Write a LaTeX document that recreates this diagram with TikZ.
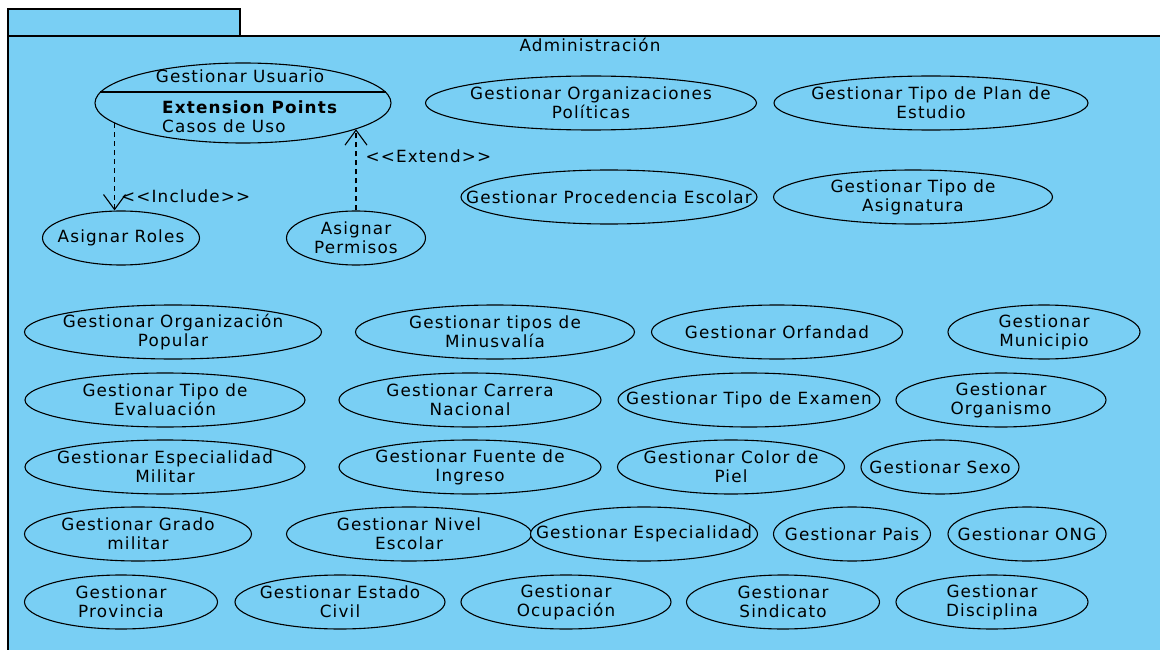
\documentclass[tikz,border=0pt]{standalone}
\usepackage{fontspec}
\setmainfont{DejaVu Sans}[LetterSpace=7]
\usetikzlibrary{shapes.geometric,arrows.meta}
\definecolor{paquete}{RGB}{121,207,244}
\newcommand{\uml}{\fontsize{16.8}{19}\selectfont}

\begin{document}
\begin{tikzpicture}[x=1pt, y=-1pt,
    texto/.style={inner sep=0pt, font=\uml},
    caso/.style={draw, ellipse, fill=paquete, line width=1.1pt, minimum height=54pt, inner sep=0pt,
      label={[texto, align=center]center:#1}},
    dep/.style={dashed, dash pattern=on 5pt off 4pt, line width=1.1pt, -{Straight Barb[length=15pt,width=22pt]}}]
    \useasboundingbox (0,0) rectangle (1160,650);
    \clip (0,0) rectangle (1160,650);
    % paquete Administración
    \draw[fill=paquete, line width=1.1pt] (8,9) rectangle (240,36);
    \draw[fill=paquete, line width=1.1pt] (8,36) rectangle (1175,665);
    \node[texto] (titulo) at (590,45) {Administración};

    % caso con puntos de extensión
    \node[draw, ellipse, fill=paquete, line width=1.1pt, minimum width=296pt, minimum height=80pt, inner sep=0pt] (usuario) at (243,103) {};
    \draw[line width=1.1pt] ([xshift=-143pt,yshift=11pt]usuario.center) -- ([xshift=143pt,yshift=11pt]usuario.center);
    \node[texto] (usutitulo) at (240,76) {Gestionar Usuario};
    \node[texto, anchor=west] (extpuntos) at (162,107) {\bfseries Extension Points};
    \node[texto, anchor=west] (extcasos) at (162,126) {Casos de Uso};

    \node[caso={Asignar Roles}, minimum width=157pt] (roles) at (121,238) {};
    \node[caso={Asignar\\Permisos}, minimum width=139pt] (permisos) at (356,238) {};

    % include y extend
    \draw[dep] (usuario.189) -- (usuario.189 |- roles.north)
      node[pos=0.84, right=6pt, texto] (include) {{<}{<}Include{>}{>}};
    \draw[dep] (permisos.north) -- (permisos.north |- usuario.-13)
      node[pos=0.67, right=9pt, texto] (extend) {{<}{<}Extend{>}{>}};

    % casos superiores
    \node[caso={Gestionar Organizaciones\\Políticas}, minimum width=331pt] (orgpol) at (591,103) {};
    \node[caso={Gestionar Tipo de Plan de\\Estudio}, minimum width=314pt] (planestudio) at (931,103) {};
    \node[caso={Gestionar Procedencia Escolar}, minimum width=296pt] (procedencia) at (609,197) {};
    \node[caso={Gestionar Tipo de\\Asignatura}, minimum width=279pt] (asignatura) at (913,197) {};

    % fila 1
    \node[caso={Gestionar Organización\\Popular}, minimum width=297pt] (orgpop) at (173,332) {};
    \node[caso={Gestionar tipos de\\Minusvalía}, minimum width=279pt] (minusvalia) at (495,332) {};
    \node[caso={Gestionar Orfandad}, minimum width=251pt] (orfandad) at (777,332) {};
    \node[caso={Gestionar\\Municipio}, minimum width=192pt] (municipio) at (1044,332) {};
    % fila 2
    \node[caso={Gestionar Tipo de\\Evaluación}, minimum width=280pt] (evaluacion) at (165,400) {};
    \node[caso={Gestionar Carrera\\Nacional}, minimum width=262pt] (carrera) at (470,400) {};
    \node[caso={Gestionar Tipo de Examen}, minimum width=262pt] (examen) at (749,400) {};
    \node[caso={Gestionar\\Organismo}, minimum width=210pt] (organismo) at (1001,400) {};
    % fila 3
    \node[caso={Gestionar Especialidad\\Militar}, minimum width=280pt] (espmilitar) at (165,467) {};
    \node[caso={Gestionar Fuente de\\Ingreso}, minimum width=262pt] (fuente) at (470,467) {};
    \node[caso={Gestionar Color de\\Piel}, minimum width=227pt] (colorpiel) at (731,467) {};
    \node[caso={Gestionar Sexo}, minimum width=158pt] (sexo) at (940,467) {};
    % fila 4
    \node[caso={Gestionar Grado\\militar}, minimum width=227pt] (grado) at (138,534) {};
    \node[caso={Gestionar Nivel\\Escolar}, minimum width=245pt] (nivel) at (409,534) {};
    \node[caso={Gestionar Especialidad}, minimum width=227pt] (especialidad) at (644,534) {};
    \node[caso={Gestionar Pais}, minimum width=157pt] (pais) at (852,534) {};
    \node[caso={Gestionar ONG}, minimum width=158pt] (ong) at (1027,534) {};
    % fila 5
    \node[caso={Gestionar\\Provincia}, minimum width=193pt] (provincia) at (121,602) {};
    \node[caso={Gestionar Estado\\Civil}, minimum width=210pt] (estadocivil) at (340,602) {};
    \node[caso={Gestionar\\Ocupación}, minimum width=210pt] (ocupacion) at (566,602) {};
    \node[caso={Gestionar\\Sindicato}, minimum width=193pt] (sindicato) at (783,602) {};
    \node[caso={Gestionar\\Disciplina}, minimum width=192pt] (disciplina) at (992,602) {};
  \end{tikzpicture}
\end{document}
